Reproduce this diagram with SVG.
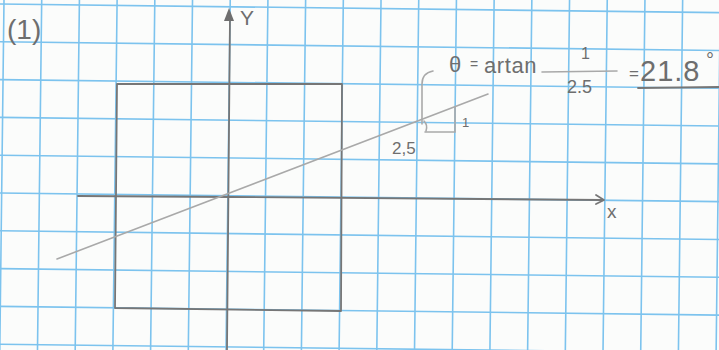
<svg xmlns="http://www.w3.org/2000/svg" width="719" height="350" viewBox="0 0 719 350">
<style>
.g{stroke:#7cc3ee;stroke-width:1.6;fill:none}
.p{stroke:#767676;stroke-width:1.8;fill:none;stroke-linecap:round;stroke-linejoin:round}
.pl{stroke:#a9a9a9;stroke-width:1.6;fill:none;stroke-linecap:round}
.t{font-family:"Liberation Sans",Arial,sans-serif;fill:#6e6e6e}
</style>
<rect width="719" height="350" fill="#fbfcfb"/>
<g id="grid" transform="rotate(0.69)">
<path class="g" d="M4,-10V370M41.7,-10V370M79.4,-10V370M117.1,-10V370M154.8,-10V370M192.5,-10V370M230.2,-10V370M267.9,-10V370M305.6,-10V370M343.3,-10V370M381,-10V370M418.7,-10V370M456.4,-10V370M494.1,-10V370M531.8,-10V370M569.5,-10V370M607.2,-10V370M644.9,-10V370M682.6,-10V370M720.3,-10V370"/>
<path class="g" d="M-10,4H740M-10,41.8H740M-10,79.6H740M-10,117.4H740M-10,155.2H740M-10,193H740M-10,230.8H740M-10,268.6H740M-10,306.4H740M-10,344.2H740"/>
</g>
<text id="label-1" class="t" x="7" y="39" font-size="28">(1)</text>
<g id="square">
<path class="p" d="M117,84 L342,84 L341,311 L115,308 Z"/>
</g>
<g id="connectors">
<path id="y-axis" class="p" d="M230,16 L227,350"/>
<polygon points="229,8 224,21 234,21" fill="#6e6e6e"/>
<path id="x-axis" class="p" d="M78,196 L230,197 L602,200"/>
<path class="p" d="M596,195 L604,200 L596,204"/>
<path id="line" class="pl" d="M57,259 L488,94"/>
<path id="leader" class="pl" d="M422,124 L422,84 Q422,73 433,71"/>
<path id="arc" class="pl" d="M424,121 Q428,125 426,131"/>
<path id="triangle" class="pl" d="M425,132 L455,132 L455,107"/>
<path id="underline" class="p" d="M638,88 L719,87"/>
<path id="frac" class="pl" d="M542,72 L617,71"/>
</g>
<text class="t" x="240" y="25" font-size="21">Y</text>
<text class="t" x="607" y="218" font-size="19">x</text>
<text class="t" x="462" y="127" font-size="13">1</text>
<text class="t" x="392" y="154" font-size="17">2,5</text>
<text class="t" x="449" y="72" font-size="22">θ</text>
<text class="t" x="470" y="69" font-size="14">=</text>
<text class="t" x="484" y="73" font-size="22" letter-spacing="0.6">artan</text>
<text class="t" x="581" y="59" font-size="16">1</text>
<text class="t" x="567" y="93" font-size="18">2.5</text>
<text class="t" x="629" y="79" font-size="17">=</text>
<text class="t" x="640" y="81" font-size="29" letter-spacing="1">21.8</text>
<text class="t" x="706" y="67" font-size="20">°</text>
</svg>
